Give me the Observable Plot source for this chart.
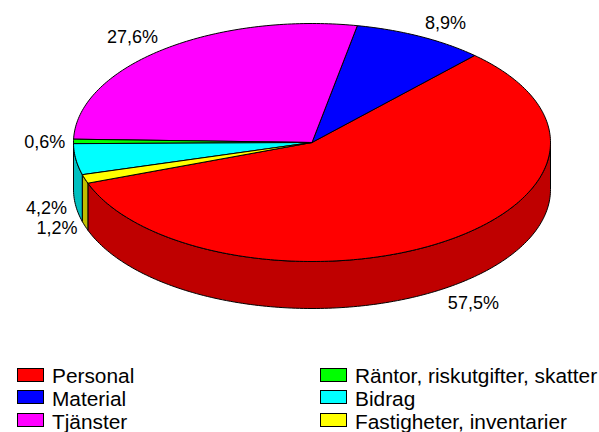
<!DOCTYPE html>
<html>
<head>
<meta charset="utf-8">
<script src="https://cdn.jsdelivr.net/npm/d3@7"></script>
<script src="https://cdn.jsdelivr.net/npm/@observablehq/plot@0.6"></script>
<style>
html,body{margin:0;padding:0;background:#fff;width:599px;height:432px;overflow:hidden}
svg{display:block;overflow:visible}
#legend{position:relative;height:82px;font:20.85px "Liberation Sans",Arial,sans-serif;color:#000}
.item{position:absolute;display:flex;align-items:center;height:22px;white-space:nowrap}
.sw{width:25px;height:12px;border:1px solid #000;margin-right:8px;flex:none}
.name{position:relative}
</style>
</head>
<body>
<div id="chart"></div>
<div id="legend"></div>
<script>
const categories = ["Personal","Material","Tjänster","Räntor, riskutgifter, skatter","Bidrag","Fastigheter, inventarier"];
const shares = [57.5,8.9,27.6,0.6,4.2,1.2];
const labels = ["57,5%","8,9%","27,6%","0,6%","4,2%","1,2%"];
const topColors = ["#ff0000","#0000ff","#ff00ff","#00ff00","#00ffff","#ffff00"];
const sideColors = ["#bf0000","#0000bf","#bf00bf","#00bf00","#00bfbf","#bfbf00"];
const labelNudge = [[10,0],[9,3],[-8,2],[7,1],[6,-1],[6,-3]];

const startAngle = 250, depth = 0.395, labelRadius = 1.15;
const rad = d => d * Math.PI / 180;
const pt = (a, r = 1, drop = 0) => ({x: r * Math.sin(rad(a)), y: r * Math.cos(rad(a)) - drop});
const arc = (a0, a1, drop = 0) => {
  const n = Math.max(2, Math.ceil(Math.abs(a1 - a0))), out = [];
  for (let i = 0; i <= n; i++) out.push(pt(a0 + (a1 - a0) * i / n, 1, drop));
  return out;
};

// Slices run anticlockwise from the start angle, in legend order.
let cursor = startAngle;
const slices = categories.map((name, i) => {
  const a0 = cursor, a1 = cursor - shares[i] * 3.6;
  cursor = a1;
  return {name, i, a0, a1, mid: (a0 + a1) / 2};
});

const norm = a => ((a % 360) + 360) % 360;
const marks = [];
// Walls: only the front half (90 to 270 degrees clockwise from top) is seen.
slices.forEach(s => {
  const hi = norm(s.a0) || 360, lo = hi - (s.a0 - s.a1);
  const a = Math.max(lo, 90), b = Math.min(hi, 270);
  if (b > a) {
    const wall = [...arc(a, b), ...arc(b, a, depth)];
    wall.push(wall[0]);
    marks.push(Plot.line(wall, {x: "x", y: "y", fill: sideColors[s.i], stroke: "#000", strokeWidth: 1, curve: "linear"}));
  }
});
// Top faces
slices.forEach(s => {
  const face = [{x: 0, y: 0}, ...arc(s.a0, s.a1), {x: 0, y: 0}];
  marks.push(Plot.line(face, {x: "x", y: "y", fill: topColors[s.i], stroke: "#000", strokeWidth: 1, curve: "linear"}));
});
// Percentage labels
slices.forEach(s => {
  const m = norm(s.mid);
  const p = pt(m, labelRadius, m > 90 && m < 265 ? depth : 0);
  marks.push(Plot.text([p], {
    x: "x", y: "y", text: () => labels[s.i],
    dx: labelNudge[s.i][0], dy: labelNudge[s.i][1],
    fontSize: 18, fill: "#000", textAnchor: "middle"
  }));
});

const plot = Plot.plot({
  width: 599, height: 350,
  marginLeft: 73, marginRight: 49, marginTop: 23, marginBottom: 89,
  x: {domain: [-1, 1], axis: null},
  y: {domain: [-1, 1], axis: null},
  style: {background: "#fff", fontFamily: '"Liberation Sans", Arial, sans-serif'},
  marks
});
document.getElementById("chart").append(plot);

const legend = document.getElementById("legend");
categories.forEach((name, i) => {
  const col = i < 3 ? 0 : 1, row = i % 3;
  const el = document.createElement("div");
  el.className = "item";
  el.style.left = (col ? 320 : 17) + "px";
  el.style.top = (14 + row * 22.4) + "px";
  el.innerHTML = `<span class="sw" style="background:${topColors[i]}"></span><span class="name" style="top:${1 + row * 0.5}px">${name}</span>`;
  legend.append(el);
});
</script>
</body>
</html>
